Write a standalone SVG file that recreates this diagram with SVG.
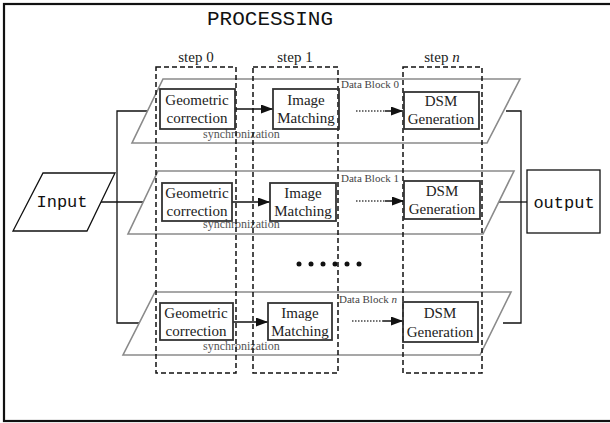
<svg xmlns="http://www.w3.org/2000/svg" width="610" height="423" viewBox="0 0 610 423">
<defs>
<marker id="ah" markerWidth="12" markerHeight="9" refX="12" refY="4.5" orient="auto" markerUnits="userSpaceOnUse">
<path d="M0,0 L12,4.5 L0,9 Z" fill="#111"/>
</marker>
<style>
.frame{fill:none;stroke:#111;stroke-width:2.2}
.mono{font-family:"Liberation Mono","DejaVu Sans Mono",monospace;fill:#111}
.serif{font-family:"Liberation Serif","DejaVu Serif",serif;fill:#222}
.blk{fill:none;stroke:#8a8a8a;stroke-width:1.6}
.step{fill:none;stroke:#111;stroke-width:1.5;stroke-dasharray:5 3}
.box{fill:none;stroke:#333;stroke-width:1.8}
.io{fill:#fff;stroke:#111;stroke-width:1.3}
.wire{fill:none;stroke:#111;stroke-width:1.3}
.arr{fill:none;stroke:#111;stroke-width:1.5}
.dot{fill:none;stroke:#444;stroke-width:1.5;stroke-dasharray:1.5 1.5}
.lbl{font-size:11px;fill:#444}
.sync{font-size:12px;fill:#555}
.bt{font-size:15px;text-anchor:middle}
.st{font-size:15px;text-anchor:middle}
</style>
</defs>
<rect class="frame" x="4" y="4" width="620" height="417"/>
<text class="mono" x="270" y="25" font-size="21" text-anchor="middle">PROCESSING</text>

<g id="connectors">
<polyline class="wire" points="100,202 143,202"/>
<polyline class="wire" points="147,111 117,111 117,323 139,323"/>
<polyline class="wire" points="506,111 521,111 521,323 503,323"/>
<polyline class="wire" points="499,202 527,202"/>
<line class="arr" x1="235" y1="109" x2="273" y2="109" marker-end="url(#ah)"/>
<line class="arr" x1="232" y1="202" x2="270" y2="202" marker-end="url(#ah)"/>
<line class="arr" x1="233" y1="322" x2="268" y2="322" marker-end="url(#ah)"/>
<line class="dot" x1="356" y1="111" x2="385" y2="111"/>
<line class="arr" x1="385" y1="111" x2="403" y2="111" marker-end="url(#ah)"/>
<line class="dot" x1="356" y1="201" x2="385" y2="201"/>
<line class="arr" x1="385" y1="201" x2="404" y2="201" marker-end="url(#ah)"/>
<line class="dot" x1="352" y1="321" x2="383" y2="321"/>
<line class="arr" x1="383" y1="321" x2="403" y2="321" marker-end="url(#ah)"/>
</g>

<g id="input">
<polygon class="io" points="43,173 115,173 87,231 13,231"/>
<text class="mono" x="62" y="207" font-size="17" text-anchor="middle">Input</text>
</g>

<g id="output">
<rect class="io" x="527" y="170" width="73" height="63"/>
<text class="mono" x="564" y="208" font-size="17" text-anchor="middle">output</text>
</g>

<g id="block0">
<polygon class="blk" points="163,79 520,79 487,143 132,143"/>
<text class="serif lbl" x="341" y="88">Data Block 0</text>
<text class="serif sync" x="203" y="138">synchronization</text>
</g>
<g id="block1">
<polygon class="blk" points="158,171 514,171 483,234 128,234"/>
<text class="serif lbl" x="341" y="182">Data Block 1</text>
<text class="serif sync" x="203" y="228">synchronization</text>
</g>
<g id="blockn">
<polygon class="blk" points="155,292 511,292 480,355 123,355"/>
<text class="serif lbl" x="339" y="303">Data Block <tspan font-style="italic">n</tspan></text>
<text class="serif sync" x="203" y="350">synchronization</text>
</g>

<g id="step0">
<rect class="step" x="156" y="67" width="80" height="306"/>
<text class="serif st" x="196" y="62">step 0</text>
</g>
<g id="step1">
<rect class="step" x="253" y="67" width="85" height="306"/>
<text class="serif st" x="295" y="62">step 1</text>
</g>
<g id="stepn">
<rect class="step" x="403" y="67" width="79" height="306"/>
<text class="serif st" x="442" y="62">step <tspan font-style="italic">n</tspan></text>
</g>

<g id="geo0">
<rect class="box" x="160" y="89" width="75" height="40"/>
<text class="serif bt" x="197" y="105">Geometric</text>
<text class="serif bt" x="197" y="123">correction</text>
</g>
<g id="img0">
<rect class="box" x="273" y="89" width="66" height="40"/>
<text class="serif bt" x="306" y="105">Image</text>
<text class="serif bt" x="306" y="123">Matching</text>
</g>
<g id="dsm0">
<rect class="box" x="404" y="92" width="75" height="37"/>
<text class="serif bt" x="441" y="106">DSM</text>
<text class="serif bt" x="441" y="124">Generation</text>
</g>

<g id="geo1">
<rect class="box" x="162" y="183" width="70" height="38"/>
<text class="serif bt" x="197" y="198">Geometric</text>
<text class="serif bt" x="197" y="216">correction</text>
</g>
<g id="img1">
<rect class="box" x="270" y="183" width="66" height="38"/>
<text class="serif bt" x="303" y="198">Image</text>
<text class="serif bt" x="303" y="216">Matching</text>
</g>
<g id="dsm1">
<rect class="box" x="404" y="181" width="76" height="38"/>
<text class="serif bt" x="442" y="196">DSM</text>
<text class="serif bt" x="442" y="214">Generation</text>
</g>

<g id="geon">
<rect class="box" x="160" y="303" width="73" height="37"/>
<text class="serif bt" x="196" y="318">Geometric</text>
<text class="serif bt" x="196" y="336">correction</text>
</g>
<g id="imgn">
<rect class="box" x="268" y="303" width="64" height="37"/>
<text class="serif bt" x="300" y="318">Image</text>
<text class="serif bt" x="300" y="336">Matching</text>
</g>
<g id="dsmn">
<rect class="box" x="403" y="302" width="75" height="40"/>
<text class="serif bt" x="440" y="318">DSM</text>
<text class="serif bt" x="440" y="337">Generation</text>
</g>

<g id="ellipsis" fill="#111">
<circle cx="299" cy="264" r="2.5"/>
<circle cx="311" cy="264" r="2.5"/>
<circle cx="323" cy="264" r="2.5"/>
<circle cx="335" cy="264" r="2.5"/>
<circle cx="347" cy="264" r="2.5"/>
<circle cx="359" cy="264" r="2.5"/>
</g>
</svg>
